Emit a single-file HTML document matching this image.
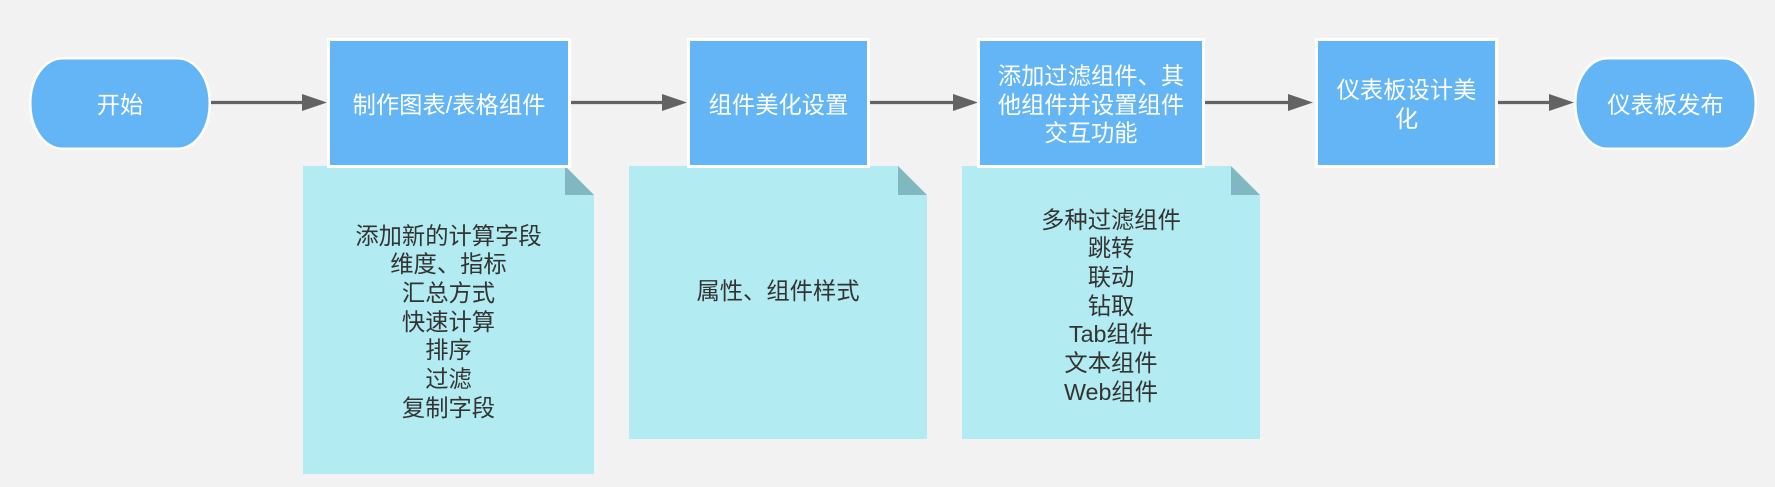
<!DOCTYPE html>
<html>
<head>
<meta charset="utf-8">
<style>
  html,body{margin:0;padding:0;}
  body{width:1775px;height:487px;position:relative;overflow:hidden;background:#f2f2f2;
       font-family:"Liberation Sans","Noto Sans CJK SC","WenQuanYi Zen Hei",sans-serif;}
  svg{position:absolute;left:0;top:0;}
  .t{position:absolute;display:flex;align-items:center;justify-content:center;text-align:center;
     font-size:23.3px;line-height:28.7px;white-space:nowrap;}
  .w{color:#ffffff;}
  .d{color:#333333;}
</style>
</head>
<body>
<svg width="1775" height="487" viewBox="0 0 1775 487" xmlns="http://www.w3.org/2000/svg">
  <rect x="0" y="0" width="1775" height="487" fill="#f2f2f2"/>

  <!-- Notes -->
  <polygon points="303,166 565,166 594,195 594,474 303,474" fill="#b2ebf2"/>
  <polygon points="565,166 565,195 594,195" fill="#80b8c1"/>

  <polygon points="629,166 898,166 927,195 927,439 629,439" fill="#b2ebf2"/>
  <polygon points="898,166 898,195 927,195" fill="#80b8c1"/>

  <polygon points="962,166 1231,166 1260,195 1260,439 962,439" fill="#b2ebf2"/>
  <polygon points="1231,166 1231,195 1260,195" fill="#80b8c1"/>

  <!-- Arrows -->
  <g stroke="#636363" stroke-width="3.2" fill="none">
    <line x1="211" y1="102.5" x2="303" y2="102.5"/>
    <line x1="571" y1="102.5" x2="663" y2="102.5"/>
    <line x1="870" y1="102.5" x2="954" y2="102.5"/>
    <line x1="1205" y1="102.5" x2="1289" y2="102.5"/>
    <line x1="1498" y1="102.5" x2="1550" y2="102.5"/>
  </g>
  <g fill="#636363">
    <polygon points="302,94 327,102.5 302,111"/>
    <polygon points="662,94 687,102.5 662,111"/>
    <polygon points="953,94 978,102.5 953,111"/>
    <polygon points="1288,94 1313,102.5 1288,111"/>
    <polygon points="1549,94 1574,102.5 1549,111"/>
  </g>

  <!-- Terminals -->
  <rect x="30.25" y="58.25" width="179.5" height="90.5" rx="32" ry="45" fill="#64b5f6" stroke="#ffffff" stroke-width="2.5"/>
  <rect x="1575.25" y="58.25" width="180.5" height="90.5" rx="32" ry="45" fill="#64b5f6" stroke="#ffffff" stroke-width="2.5"/>

  <!-- Process boxes -->
  <rect x="328.5" y="39.5" width="241" height="127" fill="#64b5f6" stroke="#ffffff" stroke-width="3"/>
  <rect x="688.5" y="39.5" width="180" height="127" fill="#64b5f6" stroke="#ffffff" stroke-width="3"/>
  <rect x="978.5" y="39.5" width="225" height="127" fill="#64b5f6" stroke="#ffffff" stroke-width="3"/>
  <rect x="1316.5" y="39.5" width="180" height="127" fill="#64b5f6" stroke="#ffffff" stroke-width="3"/>
</svg>

<!-- Node labels -->
<div class="t w" style="left:29px;top:59px;width:182px;height:93px;">开始</div>
<div class="t w" style="left:327px;top:40px;width:244px;height:130px;">制作图表/表格组件</div>
<div class="t w" style="left:687px;top:40px;width:183px;height:130px;">组件美化设置</div>
<div class="t w" style="left:977px;top:40px;width:228px;height:130px;">添加过滤组件、其<br>他组件并设置组件<br>交互功能</div>
<div class="t w" style="left:1315px;top:40px;width:183px;height:130px;">仪表板设计美<br>化</div>
<div class="t w" style="left:1574px;top:59px;width:183px;height:93px;">仪表板发布</div>

<!-- Note labels -->
<div class="t d" style="left:303px;top:168px;width:291px;height:308px;">添加新的计算字段<br>维度、指标<br>汇总方式<br>快速计算<br>排序<br>过滤<br>复制字段</div>
<div class="t d" style="left:629px;top:142px;width:298px;height:299px;">属性、组件样式</div>
<div class="t d" style="left:962px;top:169px;width:298px;height:274px;">多种过滤组件<br>跳转<br>联动<br>钻取<br>Tab组件<br>文本组件<br>Web组件</div>
</body>
</html>
